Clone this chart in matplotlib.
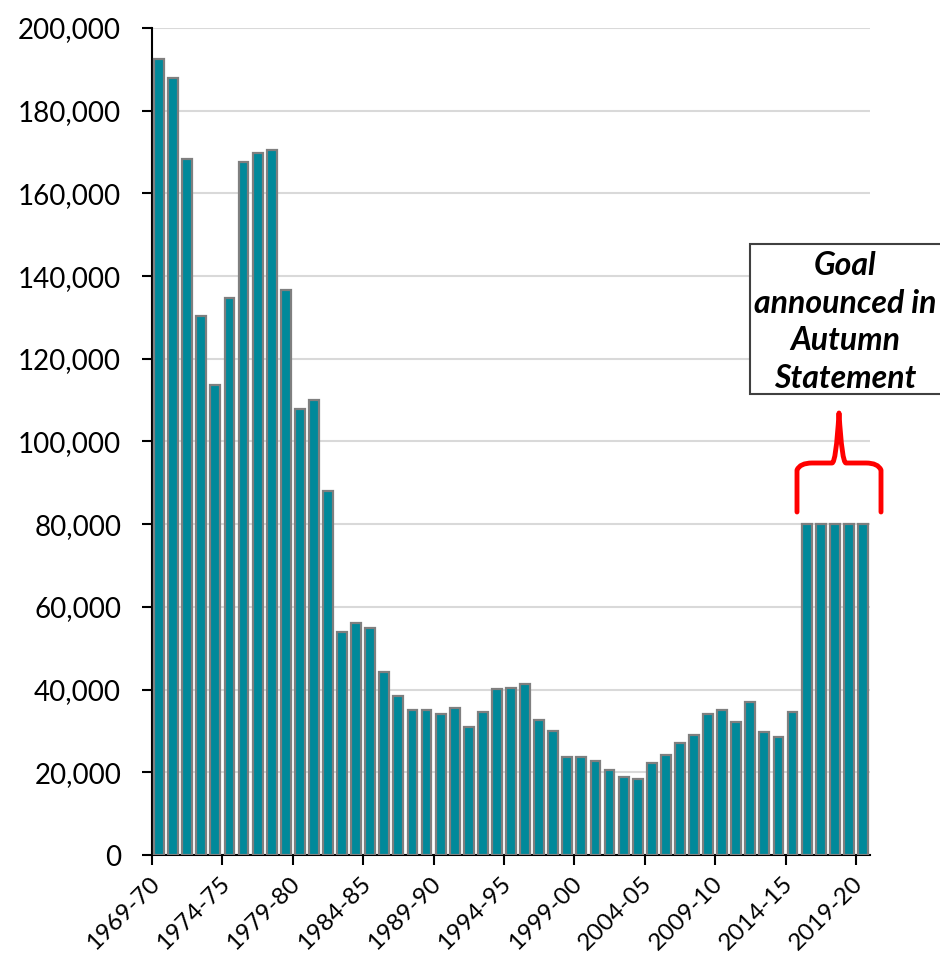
import matplotlib
matplotlib.use("Agg")
import matplotlib.pyplot as plt
import matplotlib.transforms as mtransforms
from matplotlib.path import Path
from matplotlib.patches import PathPatch, Rectangle

plt.rcParams['font.family'] = ['Lato', 'DejaVu Sans']

years = [f"{y}-{str(y+1)[-2:]}" for y in range(1969, 2020)]
values = [192500, 188000, 168400, 130300, 113700, 134600, 167600, 169800, 170500, 136600,
          107900, 110100, 88000, 54000, 56000, 55000, 44300, 38500, 35100, 35100,
          34100, 35600, 31000, 34600, 40100, 40400, 41300, 32600, 30100, 23800,
          23600, 22700, 20600, 18900, 18300, 22200, 24300, 27000, 28900, 34000,
          35100, 32200, 37000, 29800, 28500, 34500, 80000, 80000, 80000, 80000, 80000]
tick_labels = years[::5]

fig = plt.figure(figsize=(9.4, 9.56), dpi=100)
ax = fig.add_axes([152/940, 1-855/956, (870-152)/940, (855-28)/956])

x = list(range(len(values)))
ax.bar(x, values, width=0.7, color='#00899A', edgecolor='#7F7F7F', linewidth=1.6, zorder=3)
ax.set_xlim(-0.5, len(values)-0.5)
ax.set_ylim(0, 200000)
ax.set_yticks(range(0, 200001, 20000))
ax.set_yticklabels([f"{v:,}" for v in range(0, 200001, 20000)], fontsize=20)
ax.yaxis.grid(True, color='#D9D9D9', linewidth=1.5, zorder=0)
ax.set_axisbelow(True)

ax.set_xticks([i - 0.5 for i in range(0, len(values), 5)])
ax.set_xticklabels(tick_labels, rotation=45, ha='right', va='center', rotation_mode='anchor', fontsize=17.5)
ax.tick_params(axis='both', length=7.2, width=1.5, direction='out', colors='black')
ax.tick_params(axis='y', pad=15)
ax.tick_params(axis='x', pad=11)
offset = mtransforms.ScaledTranslation(4/100, 0, fig.dpi_scale_trans)
for lab in ax.get_xticklabels():
    lab.set_transform(lab.get_transform() + offset)

for s in ['top', 'right']:
    ax.spines[s].set_visible(False)
for s in ['left', 'bottom']:
    ax.spines[s].set_linewidth(1.5)

# text box
box = Rectangle((750/940, 1-394/956), 220/940, 150/956, transform=fig.transFigure,
                facecolor='white', edgecolor='#404040', linewidth=1.5, zorder=5)
fig.patches.append(box)
fig.text(845/940, 1-322/956, "Goal\nannounced in\nAutumn\nStatement", ha='center', va='center',
         fontsize=23, fontweight='bold', fontstyle='italic', linespacing=1.35, zorder=6)

# red brace (figure pixel coords)
def fp(px, py):
    return (px/940, 1-py/956)
verts = [fp(797, 512), fp(797, 470), fp(800, 463), fp(812, 463),
         fp(832, 463), fp(836, 463), fp(839, 413),
         fp(842, 463), fp(846, 463), fp(866, 463),
         fp(878, 463), fp(881, 470), fp(881, 512)]
codes = [Path.MOVETO, Path.LINETO, Path.CURVE3, Path.CURVE3,
         Path.LINETO, Path.CURVE3, Path.CURVE3,
         Path.CURVE3, Path.CURVE3, Path.LINETO,
         Path.CURVE3, Path.CURVE3, Path.LINETO]
brace = PathPatch(Path(verts, codes), transform=fig.transFigure, fill=False,
                  edgecolor='#FF0000', linewidth=3.5, capstyle='round', joinstyle='round')
fig.patches.append(brace)

fig.savefig('out.png', dpi=100)
